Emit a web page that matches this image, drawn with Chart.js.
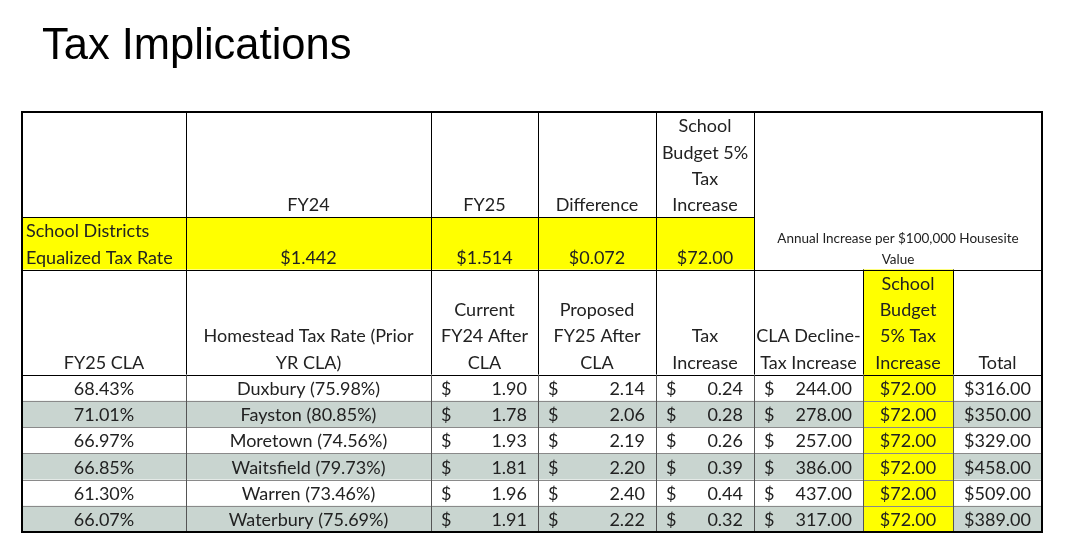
<!DOCTYPE html>
<html>
<head>
<meta charset="utf-8">
<script src="https://cdn.jsdelivr.net/npm/chart.js@4.4.1/dist/chart.umd.min.js"></script>
<style>
  html, body { margin: 0; padding: 0; background: #fff; }
  #wrap { width: 1065px; height: 553px; }
</style>
</head>
<body>
<div id="wrap"><canvas id="taxTable" width="1065" height="553"></canvas></div>
<script>
// --- data ---
const titleText = "Tax Implications";

const topHeaders = [[], ["FY24"], ["FY25"], ["Difference"], ["School", "Budget 5%", "Tax", "Increase"]];
const rateLabel = ["School Districts", "Equalized Tax Rate"];
const equalizedRates = [1.442, 1.514, 0.072];
const budgetPer100k = 72.00;
const annualNote = ["Annual Increase per $100,000 Housesite", "Value"];

const townHeaders = [
  ["FY25 CLA"],
  ["Homestead Tax Rate (Prior", "YR CLA)"],
  ["Current", "FY24 After", "CLA"],
  ["Proposed", "FY25 After", "CLA"],
  ["Tax", "Increase"],
  ["CLA Decline-", "Tax Increase"],
  ["School", "Budget", "5% Tax", "Increase"],
  ["Total"]
];

const towns = ["Duxbury", "Fayston", "Moretown", "Waitsfield", "Warren", "Waterbury"];
const priorCla = [75.98, 80.85, 74.56, 79.73, 73.46, 75.69];
const fy25Cla = [68.43, 71.01, 66.97, 66.85, 61.30, 66.07];
const currentAfterCla = [1.90, 1.78, 1.93, 1.81, 1.96, 1.91];
const proposedAfterCla = [2.14, 2.06, 2.19, 2.20, 2.40, 2.22];
const taxIncrease = [0.24, 0.28, 0.26, 0.39, 0.44, 0.32];
const claDeclineIncrease = [244, 278, 257, 386, 437, 317];
const budgetIncrease = [72, 72, 72, 72, 72, 72];
const totals = [316, 350, 329, 458, 509, 389];

// --- layout (x in page pixels, y in text lines) ---
const colEdges = [22, 186, 431, 538, 656, 754, 863, 953, 1042];
const TOTAL_LINES = 16;
const YELLOW = "#ffff00";
const BAND = "#c9d5d0";
const INK = "#222222";
const FONT = '18px "Lato"';
const SMALL_FONT = '13.5px "Lato"';
const NUDGE = 1.5; // Lato sits a bit high compared to Calibri

const money = (v, d) => v.toFixed(d).replace(/\B(?=(\d{3})+(?!\d))/g, ",");

const tablePlugin = {
  id: "taxTable",
  afterDraw(chart) {
    const ctx = chart.ctx;
    const X = (v) => chart.scales.x.getPixelForValue(v);
    const Y = (v) => chart.scales.y.getPixelForValue(v);
    const L = (c) => X(colEdges[c]);

    const fill = (c0, c1, l0, l1, color) => {
      ctx.fillStyle = color;
      ctx.fillRect(L(c0), Y(l0), L(c1) - L(c0), Y(l1) - Y(l0));
    };
    const hline = (l, c0, c1, color, w) => {
      ctx.strokeStyle = color;
      ctx.lineWidth = w;
      const y = Math.round(Y(l)) + (w % 2 ? 0.5 : 0);
      ctx.beginPath();
      ctx.moveTo(L(c0), y);
      ctx.lineTo(L(c1), y);
      ctx.stroke();
    };
    const vline = (c, l0, l1, color, w) => {
      ctx.strokeStyle = color;
      ctx.lineWidth = w;
      const x = Math.round(L(c)) + (w % 2 ? 0.5 : 0);
      ctx.beginPath();
      ctx.moveTo(x, Y(l0));
      ctx.lineTo(x, Y(l1));
      ctx.stroke();
    };
    const text = (s, x, line, align, font) => {
      ctx.font = font || FONT;
      ctx.fillStyle = INK;
      ctx.textAlign = align || "center";
      ctx.textBaseline = "middle";
      ctx.fillText(s, x, Y(line + 0.5) + NUDGE);
    };
    const mid = (c) => (L(c) + L(c + 1)) / 2;
    // lines stacked so the last one sits on bottomLine
    const stack = (lines, c, bottomLine) => {
      lines.forEach((s, i) => text(s, mid(c), bottomLine - (lines.length - 1 - i)));
    };

    ctx.save();

    // fills
    fill(0, 5, 4, 6, YELLOW);
    towns.forEach((t, i) => { if (i % 2 === 1) fill(0, 8, 10 + i, 11 + i, BAND); });
    fill(6, 7, 6, 16, YELLOW);

    // inner rules
    hline(4, 0, 5, "#000", 1);
    hline(6, 0, 8, "#000", 1);
    hline(10, 0, 8, "#000", 1);
    for (let r = 11; r < TOTAL_LINES; r++) hline(r, 0, 8, "#8a8a8a", 1);
    [1, 2, 3, 4, 5].forEach((c) => vline(c, 0, 10, "#000", 1));
    [6, 7].forEach((c) => vline(c, 6, 10, "#000", 1));
    [1, 2, 3, 4, 5, 6, 7].forEach((c) => vline(c, 10, 16, "#555", 1));

    // outer frame
    ctx.strokeStyle = "#000";
    ctx.lineWidth = 2;
    ctx.strokeRect(L(0), Y(0), L(8) - L(0), Y(16) - Y(0));

    // top header block
    topHeaders.forEach((h, c) => stack(h, c, 3));
    text(rateLabel[0], L(0) + 4, 4, "left");
    text(rateLabel[1], L(0) + 4, 5, "left");
    equalizedRates.forEach((v, i) => text("$" + money(v, 3), mid(i + 1), 5));
    text("$" + money(budgetPer100k, 2), mid(4), 5);
    const noteX = (L(5) + L(8)) / 2;
    text(annualNote[0], noteX, 4.25, "center", SMALL_FONT);
    text(annualNote[1], noteX, 5.05, "center", SMALL_FONT);

    // town header block
    townHeaders.forEach((h, c) => stack(h, c, 9));

    // town rows
    const acct = (v, c, line, d) => {
      text("$", L(c) + 10, line, "left");
      text(money(v, d), L(c + 1) - 11, line, "right");
    };
    towns.forEach((t, i) => {
      const line = 10 + i;
      text(fy25Cla[i].toFixed(2) + "%", mid(0), line);
      text(t + " (" + priorCla[i].toFixed(2) + "%)", mid(1), line);
      acct(currentAfterCla[i], 2, line, 2);
      acct(proposedAfterCla[i], 3, line, 2);
      acct(taxIncrease[i], 4, line, 2);
      acct(claDeclineIncrease[i], 5, line, 2);
      text("$" + money(budgetIncrease[i], 2), mid(6), line);
      text("$" + money(totals[i], 2), mid(7), line);
    });

    // slide title
    ctx.font = '43.5px "Liberation Sans"';
    ctx.fillStyle = "#000";
    ctx.textAlign = "left";
    ctx.textBaseline = "alphabetic";
    ctx.fillText(titleText, 42, 59);

    ctx.restore();
  }
};

new Chart(document.getElementById("taxTable"), {
  type: "scatter",
  data: { datasets: [] },
  options: {
    responsive: false,
    animation: false,
    devicePixelRatio: 1,
    layout: { padding: { left: 22, right: 23, top: 112, bottom: 21 } },
    plugins: { legend: { display: false }, tooltip: { enabled: false } },
    scales: {
      x: { type: "linear", min: 22, max: 1042, display: false },
      y: { type: "linear", min: 0, max: TOTAL_LINES, reverse: true, display: false }
    }
  },
  plugins: [tablePlugin]
});
</script>
</body>
</html>
